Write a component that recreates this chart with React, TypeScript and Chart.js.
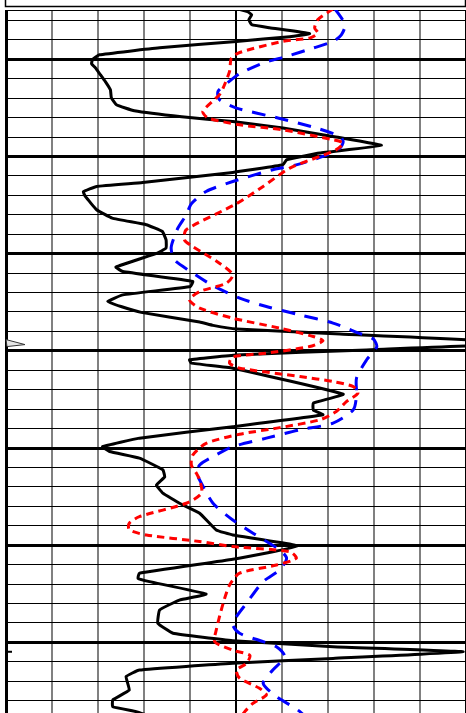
import React, { useEffect, useRef } from "react";
import { Chart, registerables } from "chart.js";

Chart.register(...registerables);

// depth axis (top -> bottom), every 5th line is a major line
const depthTop = 997.465;
const depthBottom = 1033.63;
const depthTicks = Array.from({ length: 36 }, (_, i) => 998 + i);
const valueTicks = [0, 10, 20, 30, 40, 50, 60, 70, 80, 90, 100];

// black solid curve
const blackDepth = [
  997.4, 997.55, 997.71, 997.96, 998.22, 998.38, 998.68, 998.84, 999.08, 999.41,
  999.77, 1000.02, 1000.23, 1000.43, 1000.79, 1001.15, 1001.57, 1001.98, 1002.34, 1002.65,
  1002.96, 1003.2, 1003.54, 1003.97, 1004.43, 1004.82, 1005.17, 1005.43, 1005.82, 1006.34,
  1006.54, 1006.82, 1007.07, 1007.74, 1008.17, 1008.51, 1008.86, 1009.29, 1009.71, 1009.97,
  1010.69, 1010.92, 1011.43, 1011.69, 1012.12, 1012.46, 1012.72, 1013.02, 1013.52, 1013.69,
  1013.88, 1014.13, 1014.6, 1014.95, 1015.21, 1015.46, 1015.63, 1015.89, 1017.23, 1017.69,
  1018.04, 1018.29, 1018.9, 1019.49, 1019.93, 1020.18, 1020.52, 1021.12, 1021.48, 1021.9,
  1022.32, 1022.84, 1023.35, 1024.21, 1024.47, 1025.04, 1025.72, 1026.44, 1026.7, 1026.87,
  1027.51, 1027.82, 1028.33, 1029.01, 1029.53, 1029.91, 1030.22, 1030.48, 1030.82, 1031.07,
  1031.42, 1031.76, 1032.45, 1032.96, 1033.31, 1033.56, 1033.78,
];
const blackValue = [
  50.1, 52.5, 53.4, 52.8, 53.4, 57.3, 66.0, 61.7, 50.1, 33.4,
  20.3, 18.8, 18.6, 19.4, 20.5, 21.6, 22.7, 22.9, 24.0, 27.9,
  38.2, 49.3, 60.2, 71.0, 81.6, 68.2, 61.0, 60.2, 49.3, 29.7,
  19.7, 16.8, 17.3, 19.7, 23.1, 30.5, 34.0, 34.8, 34.8, 32.9,
  23.9, 25.4, 40.6, 40.1, 25.4, 22.1, 25.0, 29.4, 42.1, 45.0,
  50.1, 72.6, 113.9, 78.4, 50.1, 39.9, 40.3, 49.3, 73.3, 66.8,
  66.8, 68.9, 49.3, 29.0, 21.0, 22.5, 29.0, 34.1, 34.5, 32.7,
  34.1, 37.7, 42.1, 45.7, 49.3, 63.5, 49.3, 29.0, 28.7, 31.2,
  43.5, 37.7, 33.4, 33.0, 36.3, 49.3, 71.1, 99.4, 71.1, 49.3,
  29.0, 26.1, 26.8, 23.2, 23.2, 28.3, 31.2,
];

// red short-dashed curve
const redDepth = [
  997.4, 997.96, 998.39, 998.65, 998.91, 999.08, 999.65, 999.94, 1000.62, 1001.48,
  1001.82, 1002.68, 1003.02, 1003.37, 1003.63, 1004.14, 1004.31, 1004.65, 1005.0, 1005.6,
  1006.54, 1007.43, 1008.77, 1009.29, 1009.63, 1010.49, 1011.09, 1011.52, 1011.95, 1012.37,
  1012.8, 1013.32, 1013.83, 1014.26, 1014.48, 1014.78, 1015.12, 1015.31, 1015.63, 1015.89,
  1016.32, 1016.58, 1016.84, 1017.18, 1017.61, 1018.12, 1018.55, 1018.95, 1019.29, 1019.76,
  1020.36, 1020.87, 1021.3, 1021.64, 1022.32, 1022.84, 1023.53, 1023.87, 1024.21, 1024.47,
  1024.81, 1025.07, 1025.33, 1025.67, 1026.02, 1026.44, 1027.05, 1027.99, 1029.37, 1029.97,
  1030.4, 1030.66, 1031.07, 1031.42, 1031.84, 1032.36, 1032.7, 1033.13, 1033.56, 1033.78,
];
const redValue = [
  71.1, 67.8, 67.1, 67.8, 66.0, 60.2, 50.8, 49.0, 48.6, 47.2,
  46.4, 42.8, 43.9, 50.8, 60.2, 71.1, 73.3, 71.8, 68.2, 61.7,
  55.9, 50.1, 39.2, 38.8, 40.6, 46.4, 49.3, 47.9, 42.1, 39.9,
  42.1, 49.3, 59.5, 66.8, 68.9, 66.0, 56.6, 49.3, 48.6, 50.8,
  63.9, 71.1, 75.5, 76.5, 74.0, 71.8, 68.2, 59.5, 50.8, 43.5,
  40.6, 40.3, 41.4, 42.1, 42.5, 39.2, 29.0, 26.8, 26.8, 30.5,
  42.1, 49.3, 61.7, 63.1, 58.8, 50.8, 48.6, 47.2, 45.7, 45.4,
  49.3, 53.0, 52.3, 50.1, 50.8, 55.1, 56.6, 53.7, 51.9, 51.2,
];

// blue long-dashed curve
const blueDepth = [
  997.4, 998.22, 998.74, 999.08, 999.42, 999.85, 1000.19, 1000.74, 1001.05, 1001.65,
  1002.08, 1002.51, 1003.02, 1003.54, 1003.97, 1004.24, 1004.57, 1005.0, 1005.43, 1005.68,
  1006.29, 1006.8, 1007.43, 1008.0, 1008.67, 1009.13, 1009.71, 1010.32, 1010.88, 1011.65,
  1012.29, 1012.72, 1013.15, 1013.57, 1014.07, 1014.38, 1014.79, 1015.46, 1016.4, 1017.26,
  1018.03, 1018.72, 1019.06, 1019.49, 1019.93, 1020.44, 1020.87, 1021.28, 1021.64, 1022.84,
  1023.7, 1024.38, 1025.24, 1025.67, 1026.27, 1026.87, 1027.98, 1028.67, 1029.1, 1029.53,
  1029.96, 1030.22, 1030.73, 1031.42, 1032.1, 1032.79, 1033.31, 1033.56, 1033.78,
];
const blueValue = [
  71.5, 73.7, 72.9, 71.1, 66.8, 61.0, 55.9, 50.8, 49.0, 46.1,
  46.4, 50.1, 59.1, 67.5, 72.6, 73.3, 72.6, 68.9, 63.1, 58.0,
  49.3, 43.5, 40.3, 39.2, 37.4, 36.6, 35.9, 36.6, 39.9, 45.0,
  50.8, 56.6, 63.9, 71.1, 76.5, 79.8, 80.6, 78.4, 76.2, 76.2,
  75.5, 71.1, 63.9, 56.6, 49.3, 45.0, 42.1, 41.5, 42.1, 45.0,
  49.3, 53.7, 59.5, 61.0, 59.5, 55.9, 52.3, 50.1, 49.3, 50.8,
  55.9, 58.8, 60.6, 58.0, 55.9, 58.8, 62.4, 63.9, 64.9,
];

// depth markers on the left edge
const flagDepths = [1014.6];
const tickDepths = [1030.48];

const toPoints = (vals: number[], depths: number[]) =>
  vals.map((v, i) => ({ x: v, y: depths[i] }));

const framePlugin = {
  id: "frame",
  afterDraw(chart: any) {
    const { ctx, chartArea: a, scales } = chart;
    ctx.save();
    ctx.strokeStyle = "#000";
    ctx.lineWidth = 1.5;
    ctx.strokeRect(a.left - 0.5, -4, a.right - a.left, 10.5);
    for (const d of flagDepths) {
      const y = scales.y.getPixelForValue(d);
      ctx.beginPath();
      ctx.moveTo(a.left, y - 3.5);
      ctx.lineTo(a.left + 19, y + 1.5);
      ctx.lineTo(a.left + 1, y + 3.5);
      ctx.closePath();
      ctx.fillStyle = "#e6e6e6";
      ctx.fill();
      ctx.strokeStyle = "#333";
      ctx.lineWidth = 1;
      ctx.stroke();
    }
    for (const d of tickDepths) {
      const y = scales.y.getPixelForValue(d);
      ctx.fillStyle = "#000";
      ctx.fillRect(a.left, y - 1, 6, 2);
    }
    ctx.restore();
  },
};

export default function App() {
  const ref = useRef<HTMLCanvasElement | null>(null);
  useEffect(() => {
    if (!ref.current) return;
    const chart = new Chart(ref.current, {
      type: "scatter",
      data: {
        datasets: [
          {
            data: toPoints(redValue, redDepth),
            showLine: true,
            borderColor: "#ff0000",
            borderWidth: 3,
            borderDash: [7.5, 5],
            pointRadius: 0,
            tension: 0.25,
            clip: 0,
          },
          {
            data: toPoints(blueValue, blueDepth),
            showLine: true,
            borderColor: "#0000ff",
            borderWidth: 3,
            borderDash: [13.5, 10],
            pointRadius: 0,
            tension: 0.25,
            clip: 0,
          },
          {
            data: toPoints(blackValue, blackDepth),
            showLine: true,
            borderColor: "#000000",
            borderWidth: 3,
            pointRadius: 0,
            tension: 0.1,
            clip: 0,
          },
        ],
      },
      options: {
        animation: false,
        responsive: false,
        events: [],
        layout: { padding: { left: 6, top: 10, right: 0, bottom: 0 } },
        plugins: { legend: { display: false }, tooltip: { enabled: false } },
        scales: {
          x: {
            type: "linear",
            min: 0,
            max: 100,
            afterBuildTicks: (s: any) => {
              s.ticks = valueTicks.map((v) => ({ value: v }));
            },
            ticks: { display: false },
            border: { display: false },
            grid: {
              drawTicks: false,
              color: (c: any) => {
                const v = c.tick ? c.tick.value : 0;
                return v === 50 || v === 0 || v === 100 ? "#000" : "#808080";
              },
              lineWidth: (c: any) => {
                const v = c.tick ? c.tick.value : 0;
                return v === 0 ? 3 : 2;
              },
            },
          },
          y: {
            type: "linear",
            reverse: true,
            min: depthTop,
            max: depthBottom,
            afterBuildTicks: (s: any) => {
              s.ticks = [depthTop, ...depthTicks].map((v) => ({ value: v }));
            },
            ticks: { display: false },
            border: { display: false },
            grid: {
              drawTicks: false,
              color: "#000",
              lineWidth: (c: any) => {
                const v = c.tick ? c.tick.value : 1;
                return Math.abs(v % 5) < 1e-6 ? 3 : 1;
              },
            },
          },
        },
      },
      plugins: [framePlugin],
    } as any);
    return () => chart.destroy();
  }, []);
  return (
    <div style={{ position: "absolute", left: 0, top: 0, width: 466, height: 713 }}>
      <canvas ref={ref} width={466} height={713} style={{ width: 466, height: 713, display: "block" }} />
    </div>
  );
}
